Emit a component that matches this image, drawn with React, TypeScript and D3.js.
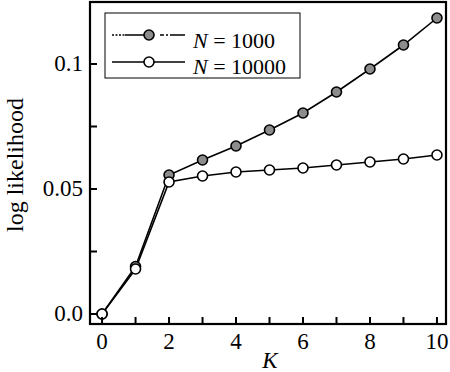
import React from "react";
import * as d3 from "d3";

const ks = [0, 1, 2, 3, 4, 5, 6, 7, 8, 9, 10];
const n1000 = [0, 0.019, 0.0556, 0.0616, 0.0672, 0.0736, 0.0804, 0.0888, 0.098, 0.1076, 0.1184];
const n10000 = [0, 0.018, 0.0528, 0.0552, 0.0568, 0.0576, 0.0584, 0.0596, 0.0608, 0.062, 0.0636];
const xTicks = [0, 1, 2, 3, 4, 5, 6, 7, 8, 9, 10];
const xLabels = [0, 2, 4, 6, 8, 10];
const yTicks = [0, 0.025, 0.05, 0.075, 0.1];
const yLabels = [
  { v: 0, t: "0.0" },
  { v: 0.05, t: "0.05" },
  { v: 0.1, t: "0.1" },
];

const font = "'Liberation Serif', 'Times New Roman', Times, serif";

const App = () => {
  const left = 90, right = 446, top = 2, bottom = 324;
  const x = d3.scaleLinear().domain([-0.36, 10.27]).range([left, right]);
  const y = d3.scaleLinear().domain([-0.004, 0.1248]).range([bottom, top]);
  const line = d3.line<number>().x((_, i) => x(ks[i])).y(d => y(d));

  return (
    <svg width={450} height={372} style={{ position: "absolute", left: 0, top: 0, fontFamily: font }}>
      <rect width={450} height={372} fill="white" />
      <path d={line(n10000) || ""} fill="none" stroke="black" strokeWidth={1.6} />
      <path d={line(n1000) || ""} fill="none" stroke="black" strokeWidth={1.6} />
      {n1000.map((d, i) => (
        <circle key={"a" + i} cx={x(ks[i])} cy={y(d)} r={5} fill="#8c8c8c" stroke="black" strokeWidth={1.6} />
      ))}
      {n10000.map((d, i) => (
        <circle key={"b" + i} cx={x(ks[i])} cy={y(d)} r={5} fill="white" stroke="black" strokeWidth={1.6} />
      ))}
      {xTicks.map(t => (
        <line key={"xt" + t} x1={x(t)} x2={x(t)} y1={bottom} y2={bottom - 7} stroke="black" strokeWidth={2} />
      ))}
      {yTicks.map(t => (
        <line key={"yt" + t} x1={left} x2={left + 7} y1={y(t)} y2={y(t)} stroke="black" strokeWidth={2} />
      ))}
      <rect x={left} y={top} width={right - left} height={bottom - top} fill="none" stroke="black" strokeWidth={2.2} />
      {xLabels.map(t => (
        <text key={"xl" + t} x={x(t)} y={349} fontSize={23} textAnchor="middle">{t}</text>
      ))}
      {yLabels.map(l => (
        <text key={"yl" + l.t} x={83} y={y(l.v) + 7} fontSize={23} textAnchor="end">{l.t}</text>
      ))}
      <text x={270} y={368} fontSize={23} fontStyle="italic" textAnchor="middle">K</text>
      <text transform={`translate(23,${165}) rotate(-90)`} fontSize={24} textAnchor="middle">log likelihood</text>
      <g>
        <rect x={105} y={13} width={195} height={65} fill="white" stroke="black" strokeWidth={1} />
        <line x1={112} x2={125} y1={35} y2={35} stroke="black" strokeWidth={1.6} strokeDasharray="2 1.5" />
        <line x1={125} x2={185} y1={35} y2={35} stroke="black" strokeWidth={1.6} strokeDasharray="24 11 4 2 2 2 100" />
        <circle cx={149} cy={35} r={5} fill="#8c8c8c" stroke="black" strokeWidth={1.6} />
        <text x={193} y={48} fontSize={22}><tspan fontStyle="italic">N</tspan> = 1000</text>
        <line x1={112} x2={185} y1={62} y2={62} stroke="black" strokeWidth={1.6} />
        <circle cx={149} cy={62} r={5} fill="white" stroke="black" strokeWidth={1.6} />
        <text x={193} y={74} fontSize={22}><tspan fontStyle="italic">N</tspan> = 10000</text>
      </g>
    </svg>
  );
};

export default App;
